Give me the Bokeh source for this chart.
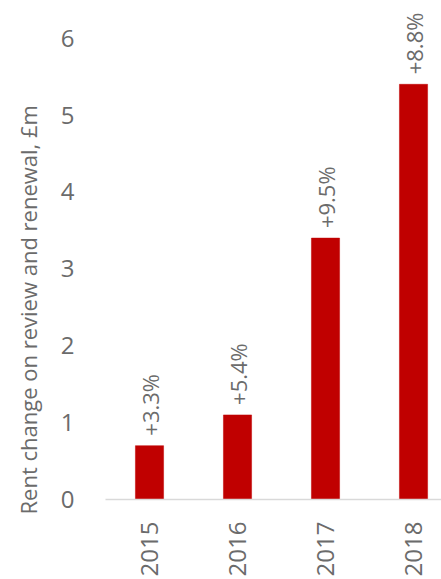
import math
from bokeh.plotting import figure
from bokeh.models import ColumnDataSource, Range1d, FixedTicker, Title
from bokeh.core.properties import value
from bokeh.embed import file_html
from bokeh.resources import INLINE

years = ["2015", "2016", "2017", "2018"]
rent_change = [0.7, 1.1, 3.4, 5.4]
pct_labels = ["+3.3%", "+5.4%", "+9.5%", "+8.8%"]
y_ticks = [0, 1, 2, 3, 4, 5, 6]
y_title = "Rent change on review and renewal, £m"

FONT = "Open Sans"
GREY = "#6b6b6b"

xs = list(range(len(years)))
src = ColumnDataSource(dict(x=xs, top=rent_change, lab=pct_labels))

p = figure(width=441, height=579, output_backend="svg", toolbar_location=None,
           x_range=Range1d(-0.5, 3.318), y_range=Range1d(0, 6.49),
           min_border_left=105, min_border_right=0, min_border_top=0,
           min_border_bottom=79)
p.outline_line_color = None
p.grid.grid_line_color = None
p.background_fill_color = "white"
p.border_fill_color = "white"

p.vbar(x="x", top="top", width=0.32, source=src, fill_color="#C00000",
       line_color="#C00000", line_width=0.5)
p.text(x="x", y="top", text="lab", source=src, angle=math.pi / 2,
       text_align="left", text_baseline="middle", y_offset=-10,
       text_font=value(FONT), text_font_size="22px", text_color=GREY)

xa = p.xaxis[0]
xa.ticker = FixedTicker(ticks=xs)
xa.major_label_overrides = {i: y for i, y in enumerate(years)}
xa.major_label_orientation = math.pi / 2
xa.major_tick_line_color = None
xa.minor_tick_line_color = None
xa.axis_line_color = "#D9D9D9"
xa.axis_line_width = 1.5
xa.major_label_text_font = FONT
xa.major_label_text_font_size = "24px"
xa.major_label_text_color = GREY
xa.major_label_standoff = 16

ya = p.yaxis[0]
ya.ticker = FixedTicker(ticks=y_ticks)
ya.major_tick_line_color = None
ya.minor_tick_line_color = None
ya.axis_line_color = None
ya.major_label_text_font = FONT
ya.major_label_text_font_size = "24px"
ya.major_label_text_color = GREY
ya.major_label_standoff = 25

t = Title(text=y_title, align="left", offset=-15, standoff=25,
          vertical_align="top",
          text_font=FONT, text_font_size="22px", text_font_style="normal",
          text_color=GREY)
p.add_layout(t, "left")

open("out.html", "w").write(file_html(p, INLINE))
